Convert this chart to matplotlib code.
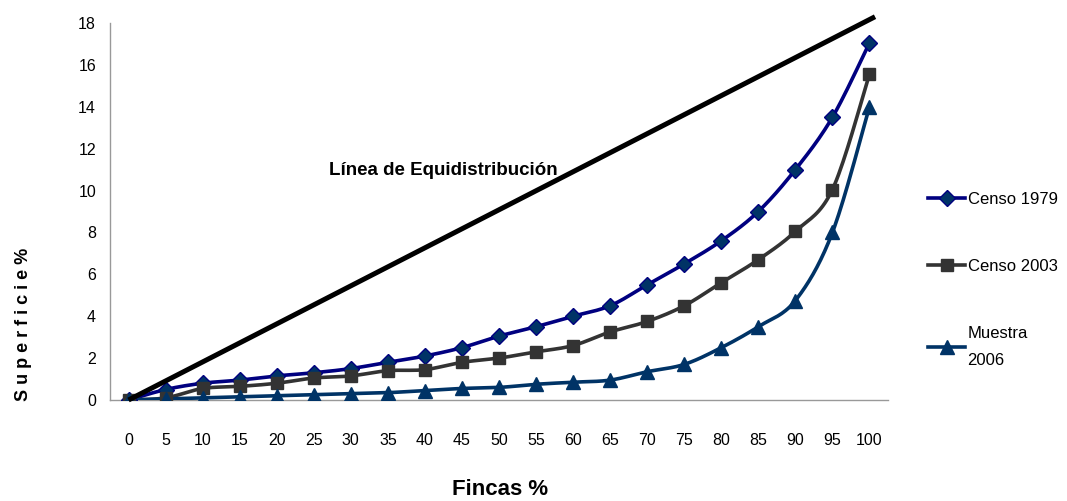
import numpy as np
import matplotlib
matplotlib.use('Agg')
import matplotlib.pyplot as plt
from matplotlib.lines import Line2D

plt.rcParams['font.family'] = ['Liberation Sans Narrow', 'Liberation Sans', 'DejaVu Sans']

# Datos (curva de Lorenz)
fincas = [0, 5, 10, 15, 20, 25, 30, 35, 40, 45, 50, 55, 60, 65, 70, 75, 80, 85, 90, 95, 100]
censo_1979 = [0, 0.5, 0.8, 0.95, 1.15, 1.3, 1.5, 1.8, 2.1, 2.5, 3.05, 3.5, 4.0, 4.5,
              5.5, 6.5, 7.6, 9.0, 11.0, 13.5, 17.05]
censo_2003 = [0, 0.1, 0.55, 0.65, 0.8, 1.05, 1.15, 1.4, 1.45, 1.8, 2.0, 2.3, 2.6, 3.25,
              3.75, 4.5, 5.6, 6.7, 8.05, 10.05, 15.55]
muestra_2006 = [0, 0.05, 0.1, 0.15, 0.2, 0.25, 0.3, 0.35, 0.45, 0.55, 0.6, 0.75, 0.85, 0.95,
                1.35, 1.7, 2.5, 3.5, 4.75, 8.0, 14.0]
equi_x = [0, 20.15]   # posición de categoría (0 ... 100)
equi_y = [0, 18.3]


def suavizar(x, y, n=20, sx=37.05, sy=20.94):
    # curva Catmull-Rom (como el suavizado de Excel), en escala de pantalla
    px = np.asarray(x, float) * sx
    py = np.asarray(y, float) * sy
    p = np.column_stack([px, py])
    p = np.vstack([p[0], p, p[-1]])
    out = []
    t = np.linspace(0, 1, n)[:, None]
    for i in range(1, len(p) - 2):
        p0, p1, p2, p3 = p[i - 1], p[i], p[i + 1], p[i + 2]
        seg = 0.5 * ((2 * p1) + (-p0 + p2) * t + (2 * p0 - 5 * p1 + 4 * p2 - p3) * t ** 2
                     + (-p0 + 3 * p1 - 3 * p2 + p3) * t ** 3)
        out.append(seg)
    out = np.vstack(out)
    return out[:, 0] / sx, out[:, 1] / sy


fig = plt.figure(figsize=(10.67, 5.01), dpi=100)
ax = fig.add_axes([110 / 1067, 101 / 501, 778 / 1067, 377 / 501])

idx = np.arange(len(fincas))
series = [
    (censo_1979, 'Censo 1979', '#000080', 'D', '#003366', '#000080', 8),
    (censo_2003, 'Censo 2003', '#333333', 's', '#333333', '#333333', 9),
    (muestra_2006, 'Muestra\n2006', '#003366', '^', '#003366', '#003366', 10),
]
handles = []
for vals, lab, col, mk, fc, ec, ms in series:
    sx_, sy_ = suavizar(idx, vals)
    ax.plot(sx_, sy_, color=col, lw=2.6, zorder=3)
    ax.plot(idx, vals, ls='none', marker=mk, ms=ms, mfc=fc, mec=ec, mew=1, zorder=4)
    handles.append(Line2D([0], [0], color=col, lw=2.6, marker=mk, ms=ms, mfc=fc, mec=ec))

ax.plot(equi_x, equi_y, color='black', lw=3.6, zorder=5, clip_on=False,
        solid_capstyle='butt')
ax.text(5.4, 10.75, 'Línea de Equidistribución', fontsize=13.5, fontweight='bold')

ax.set_xlim(-0.5, 20.5)
ax.set_ylim(0, 18)
ax.set_xticks(idx)
ax.set_xticklabels([str(f) for f in fincas])
ax.set_yticks(range(0, 19, 2))
ax.tick_params(axis='both', length=0, labelsize=11.5)
ax.tick_params(axis='x', pad=24)
ax.tick_params(axis='y', pad=10)
for s in ['top', 'right']:
    ax.spines[s].set_visible(False)
for s in ['left', 'bottom']:
    ax.spines[s].set_color('#999999')
    ax.spines[s].set_linewidth(1)

ax.set_xlabel('Fincas %', fontsize=16, fontweight='bold')
ax.xaxis.set_label_coords(0.501, -0.21)
ax.set_ylabel('S u p e r f i c i e %', fontsize=13, fontweight='bold')
ax.yaxis.set_label_coords(-0.1, 0.2)

leg = fig.legend(handles, [s[1] for s in series], loc='upper left',
                 bbox_to_anchor=(920 / 1067, 1 - 184 / 501), frameon=False, fontsize=12,
                 handlelength=2.2, handletextpad=0.15, labelspacing=3.1, borderpad=0)
for t in leg.get_texts():
    t.set_linespacing(2.0)

fig.savefig('out.png', dpi=100)
